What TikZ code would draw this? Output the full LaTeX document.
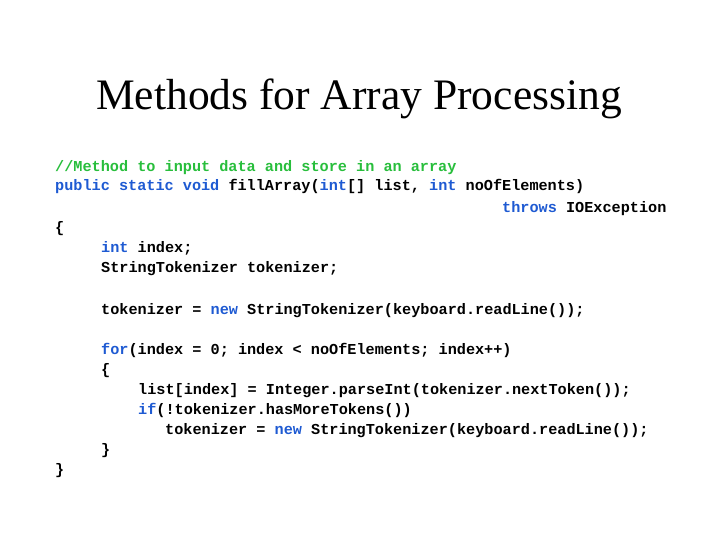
\documentclass[tikz,border=0pt]{standalone}
\usepackage{fontspec}
\setmainfont{Liberation Serif}
\setmonofont{Liberation Mono}
\definecolor{kw}{RGB}{30,90,210}
\definecolor{cm}{RGB}{40,190,60}
\newcommand{\kw}[1]{\textcolor{kw}{#1}}
\begin{document}
\begin{tikzpicture}[x=1pt,y=-1pt,
  code/.style={anchor=base west,inner sep=0pt,font=\fontsize{15.2}{17}\ttfamily\bfseries}]
\useasboundingbox (0,0) rectangle (720,540);
\node[anchor=base,font=\fontsize{43.5}{46}\selectfont] (title) at (359,110) {Methods for Array Processing};
\node[code,text=cm] (l1) at (55,172) {//Method to input data and store in an array};
\node[code] (l2) at (55,191) {\kw{public static void} fillArray(\kw{int}[] list, \kw{int} noOfElements)};
\node[code] (l3) at (502,212) {\kw{throws} IOException};
\node[code] (l4) at (55,233) {\{};
\node[code] (l5) at (101,252) {\kw{int} index;};
\node[code] (l6) at (101,272) {StringTokenizer tokenizer;};
\node[code] (l7) at (101,314) {tokenizer = \kw{new} StringTokenizer(keyboard.readLine());};
\node[code] (l8) at (101,354) {\kw{for}(index = 0; index < noOfElements; index++)};
\node[code] (l9) at (101,374) {\{};
\node[code] (l10) at (138,394) {list[index] = Integer.parseInt(tokenizer.nextToken());};
\node[code] (l11) at (138,414) {\kw{if}(!tokenizer.hasMoreTokens())};
\node[code] (l12) at (165,434) {tokenizer = \kw{new} StringTokenizer(keyboard.readLine());};
\node[code] (l13) at (101,454) {\}};
\node[code] (l14) at (55,474) {\}};
\end{tikzpicture}
\end{document}
